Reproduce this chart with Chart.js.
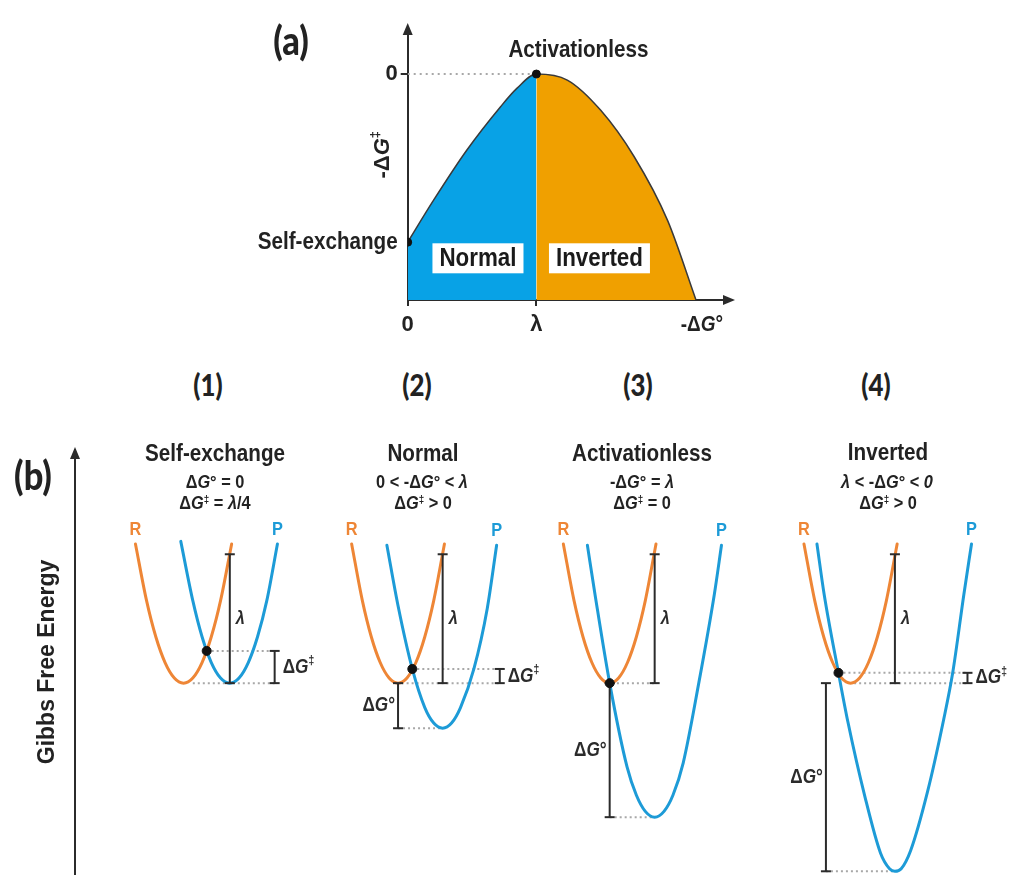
<!DOCTYPE html>
<html>
<head>
<meta charset="utf-8">
<script src="https://cdn.jsdelivr.net/npm/chart.js@4.4.1/dist/chart.umd.min.js"></script>
<style>
  body { margin: 0; background: #fff; width: 1016px; height: 881px; position: relative; overflow: hidden;
         font-family: 'Liberation Sans', Arial, sans-serif; color: #222; }
  canvas { position: absolute; }
  .t { position: absolute; font-weight: bold; white-space: nowrap; line-height: 1;
       transform: translate(-50%, -50%) scaleX(0.86); }
  .big { font-family: Lato, sans-serif; font-size: 40px; font-weight: 900; }
  .num { font-family: Lato, sans-serif; font-size: 30px; font-weight: 900; }
  .ttl { font-size: 24px; }
  .sub { font-size: 19px; }
  sup { font-size: 0.6em; vertical-align: 0.5em; line-height: 0; }
</style>
</head>
<body>
<canvas id="chartA" width="520" height="345" style="left:240px;top:0"></canvas>
<canvas id="chart1" width="340" height="441" style="left:0;top:440px"></canvas>
<canvas id="chart2" width="230" height="441" style="left:330px;top:440px"></canvas>
<canvas id="chart3" width="225" height="441" style="left:545px;top:440px"></canvas>
<canvas id="chart4" width="246" height="441" style="left:770px;top:440px"></canvas>

<div class="t big" style="left:291px;top:40px">(a)</div>
<div class="t big" style="left:33px;top:475px">(b)</div>
<div class="t num" style="left:208px;top:384px">(1)</div>
<div class="t num" style="left:417px;top:384px">(2)</div>
<div class="t num" style="left:638px;top:384px">(3)</div>
<div class="t num" style="left:876px;top:384px">(4)</div>

<div class="t ttl" style="left:215px;top:453px">Self-exchange</div>
<div class="t sub" style="left:215px;top:481px">Δ<i>G</i>° = 0</div>
<div class="t sub" style="left:215px;top:502px">Δ<i>G</i><sup>‡</sup> = <i>λ</i>/4</div>

<div class="t ttl" style="left:423px;top:453px">Normal</div>
<div class="t sub" style="left:422px;top:481px">0 &lt; -Δ<i>G</i>° &lt; <i>λ</i></div>
<div class="t sub" style="left:423px;top:502px">Δ<i>G</i><sup>‡</sup> &gt; 0</div>

<div class="t ttl" style="left:642px;top:453px">Activationless</div>
<div class="t sub" style="left:642px;top:481px">-Δ<i>G</i>° = <i>λ</i></div>
<div class="t sub" style="left:642px;top:502px">Δ<i>G</i><sup>‡</sup> = 0</div>

<div class="t ttl" style="left:888px;top:452px">Inverted</div>
<div class="t sub" style="left:887px;top:481px"><i>λ</i> &lt; -Δ<i>G</i>° &lt; <i>0</i></div>
<div class="t sub" style="left:888px;top:502px">Δ<i>G</i><sup>‡</sup> &gt; 0</div>

<script>
// (a) -ΔG‡ against -ΔG°, both in units of λ
const normalX = [0, 0.2, 0.46, 0.72, 0.85, 1];
const normalY = [-0.25, -0.188, -0.113, -0.049, -0.021, 0];
const invertedX = [1.24, 1.5, 1.76, 2.02, 2.24];
const invertedY = [-0.009, -0.054, -0.123, -0.218, -0.336];
const markX = [0, 1];          // self-exchange, activationless
const markY = [-0.25, 0];
const aTickX = [0, 1];
const aTickLabels = ['0', 'λ'];
const aTickY = [0];
const aTickYLabels = ['0'];

// (b) free energy curves, x = reaction coordinate (R-P spacing = 1), y in units of λ
const reactX = [-1.04, -0.8, -0.6, -0.4, -0.2, 0, 0.2, 0.4, 0.6, 0.8, 1.04];
const reactY = [1.08, 0.64, 0.36, 0.16, 0.04, 0, 0.04, 0.16, 0.36, 0.64, 1.08];
const prodX1 = [-0.06, 0.2, 0.4, 0.6, 0.8, 1, 1.2, 1.4, 1.6, 1.8, 2.03];
const prodY1 = [1.1, 0.64, 0.36, 0.16, 0.04, 0, 0.04, 0.16, 0.36, 0.64, 1.08];
const prodX2 = [-0.25, 0, 0.32, 0.6, 0.8, 1, 1.2, 1.4, 1.7, 2.0, 2.21];
const prodY2 = [1.07, 0.6, 0.11, -0.19, -0.31, -0.35, -0.31, -0.19, 0.11, 0.58, 1.07];
const prodX3 = [-0.5, -0.33, 0, 0.39, 0.6, 0.8, 1.01, 1.22, 1.42, 1.65, 2.0, 2.35, 2.51];
const prodY3 = [1.07, 0.69, 0, -0.65, -0.87, -0.995, -1.04, -0.995, -0.87, -0.62, 0, 0.69, 1.07];
const prodX4 = [-0.75, -0.59, -0.27, -0.06, 0.32, 0.67, 0.87, 0.99, 1.13, 1.34, 1.72, 2.08, 2.28, 2.53, 2.7];
const prodY4 = [1.08, 0.69, 0.08, -0.30, -0.88, -1.32, -1.44, -1.46, -1.44, -1.30, -0.84, -0.28, 0.08, 0.69, 1.08];

const productMinX = [1, 1, 1.01, 0.99];
const productMinY = [0, -0.35, -1.04, -1.46];    // ΔG°
const crossX = [0.5, 0.32, 0, -0.27];
const crossY = [0.25, 0.11, 0, 0.08];            // ΔG‡
const lambdaValue = 1;
const activationBarX = [1.97, 2.28, null, 2.61];
const standardBarX = [null, 0, 0, -0.55];
const baselineStartX = [0.2, 0.08, 0.05, 0.08];

const productX = [prodX1, prodX2, prodX3, prodX4];
const productY = [prodY1, prodY2, prodY3, prodY4];

const BLUE_FILL = '#08A2E6', ORANGE_FILL = '#F0A000';
const R_COLOR = '#EE8636', P_COLOR = '#1D9BD7';
const INK = '#2b2b2b', DOTS = '#a8a8a8';
const FONT = "'Liberation Sans', Arial, sans-serif";
const SX = 0.86;

const DG_ACT = [['Δ'], ['G', 'i'], ['‡', 's']];
const DG_STD = [['Δ'], ['G', 'i'], ['°']];

function xy(xs, ys) { return xs.map((x, i) => ({ x, y: ys[i] })); }

function drawRich(ctx, parts, x, y, size, align, color, sx = SX) {
  const fontFor = p => `${p[1] === 'i' ? 'italic ' : ''}bold ${p[1] === 's' ? Math.round(size * 0.6) : size}px ${FONT}`;
  let w = 0;
  const ws = parts.map(p => { ctx.font = fontFor(p); const m = ctx.measureText(p[0]).width; w += m; return m; });
  let cx = align === 'center' ? -w / 2 : align === 'right' ? -w : 0;
  ctx.save();
  ctx.translate(x, y);
  ctx.scale(sx, 1);
  ctx.fillStyle = color;
  ctx.textBaseline = 'middle';
  ctx.textAlign = 'left';
  parts.forEach((p, i) => {
    ctx.font = fontFor(p);
    ctx.fillText(p[0], cx, p[1] === 's' ? -size * 0.32 : 0);
    cx += ws[i];
  });
  ctx.restore();
  return w * sx;
}

function arrowHead(ctx, x, y, ang) {
  ctx.save();
  ctx.translate(x, y);
  ctx.rotate(ang);
  ctx.fillStyle = INK;
  ctx.beginPath();
  ctx.moveTo(0, 0); ctx.lineTo(-12, -5); ctx.lineTo(-12, 5);
  ctx.closePath();
  ctx.fill();
  ctx.restore();
}

// ---------- panel (a) ----------
const panelAPlugin = {
  id: 'panelA',
  afterDraw(chart) {
    const { ctx, chartArea: a, scales: { x, y } } = chart;
    ctx.save();
    ctx.strokeStyle = INK; ctx.lineWidth = 2;
    ctx.beginPath(); ctx.moveTo(a.right - 1, a.bottom); ctx.lineTo(a.right + 4, a.bottom); ctx.stroke();
    ctx.restore();
    arrowHead(ctx, a.right + 12, a.bottom, 0);
    arrowHead(ctx, a.left, a.top - 10, -Math.PI / 2);

    ctx.save();
    ctx.translate(a.left - 25, y.getPixelForValue(-0.12));
    ctx.rotate(-Math.PI / 2);
    drawRich(ctx, [['-'], ['Δ'], ['G', 'i'], ['‡', 's']], 0, 0, 22, 'center', '#222', 1);
    ctx.restore();
    drawRich(ctx, [['-'], ['Δ'], ['G', 'i'], ['°']], a.right, a.bottom + 25, 22, 'right', '#222');

    const peakX = x.getPixelForValue(markX[1]), peakY = y.getPixelForValue(markY[1]);
    drawRich(ctx, [['Activationless']], peakX + 42, peakY - 24, 24, 'center', '#222');
    const selfX = x.getPixelForValue(markX[0]), selfY = y.getPixelForValue(markY[0]);
    drawRich(ctx, [['Self-exchange']], selfX - 10, selfY, 24, 'right', '#222');

    [['Normal', 0.546], ['Inverted', 1.49]].forEach(([txt, v]) => {
      const cx = x.getPixelForValue(v), cy = y.getPixelForValue(-0.274);
      ctx.font = `bold 26px ${FONT}`;
      const w = ctx.measureText(txt).width * SX + 14;
      ctx.fillStyle = '#fff';
      ctx.fillRect(cx - w / 2, cy - 15, w, 30);
      drawRich(ctx, [[txt]], cx, cy + 1, 26, 'center', '#1a1a1a');
    });
  }
};

new Chart(document.getElementById('chartA'), {
  type: 'line',
  data: {
    datasets: [
      { data: xy(markX, markY), showLine: false, pointRadius: 4, pointBackgroundColor: '#111', pointBorderColor: '#111' },
      { data: [{ x: 0, y: 0 }, { x: 1, y: 0 }], borderColor: DOTS, borderWidth: 2, borderDash: [2, 4], pointRadius: 0 },
      {
        data: xy(normalX.concat(invertedX), normalY.concat(invertedY)),
        borderColor: '#3a3a3a', borderWidth: 1.5, pointRadius: 0,
        cubicInterpolationMode: 'monotone',
        fill: 'start', backgroundColor: BLUE_FILL,
        segment: { backgroundColor: c => c.p0.parsed.x < 1 ? BLUE_FILL : ORANGE_FILL }
      }
    ]
  },
  options: {
    responsive: false, animation: false, events: [],
    layout: { padding: { top: 33, right: 37, left: 0, bottom: 0 } },
    plugins: { legend: { display: false }, tooltip: { enabled: false } },
    scales: {
      x: {
        type: 'linear', min: 0, max: 2.45,
        afterFit: s => { s.height = 45; },
        afterBuildTicks: s => { s.ticks = aTickX.map(v => ({ value: v })); },
        border: { color: INK, width: 2 },
        grid: { drawOnChartArea: false, tickLength: 6, color: INK, lineWidth: 2 },
        ticks: { autoSkip: false, maxRotation: 0, padding: 6, color: '#222',
                 font: { family: FONT, size: 22, weight: 'bold' },
                 callback: (v, i) => aTickLabels[i] }
      },
      y: {
        min: -0.336, max: 0.061,
        afterFit: s => { s.width = 167.7; },
        afterBuildTicks: s => { s.ticks = aTickY.map(v => ({ value: v })); },
        border: { color: INK, width: 2 },
        grid: { drawOnChartArea: false, tickLength: 7, color: INK, lineWidth: 2 },
        ticks: { padding: 3, color: '#222', font: { family: FONT, size: 22, weight: 'bold' },
                 callback: (v, i) => aTickYLabels[i] }
      }
    }
  },
  plugins: [panelAPlugin]
});

// ---------- panel (b) ----------
const PX_PER_X = 47.5;
const Y_MIN = -1.481, Y_MAX = 1.809;
const frames = [
  { id: 'chart1', left: 0, width: 340, plotLeft: 75, zeroPx: 186.5 },
  { id: 'chart2', left: 330, width: 230, plotLeft: 330, zeroPx: 395 },
  { id: 'chart3', left: 545, width: 225, plotLeft: 545, zeroPx: 606.5 },
  { id: 'chart4', left: 770, width: 246, plotLeft: 770, zeroPx: 848 }
];

function curve(data, color) {
  return { data, borderColor: color, borderWidth: 3, pointRadius: 0, cubicInterpolationMode: 'monotone',
           borderCapStyle: 'round', fill: false };
}
function bar(x, y0, y1) {
  return { data: [{ x, y: y0 }, { x, y: y1 }], borderColor: INK, borderWidth: 2, tension: 0,
           pointStyle: 'line', pointRadius: 5, pointBorderWidth: 2, pointBorderColor: INK };
}
function dotted(x0, x1, y) {
  return { data: [{ x: x0, y }, { x: x1, y }], borderColor: DOTS, borderWidth: 2, borderDash: [2, 3],
           pointRadius: 0, tension: 0 };
}

function diagramPlugin(i) {
  return {
    id: 'diagram' + i,
    afterDatasetsDraw(chart) {
      const { ctx, chartArea: a, scales: { x, y } } = chart;
      const px = v => x.getPixelForValue(v), py = v => y.getPixelForValue(v);
      const pxs = productX[i], pys = productY[i];
      drawRich(ctx, [['R']], px(reactX[0]), py(reactY[0]) - 14, 19, 'center', R_COLOR);
      drawRich(ctx, [['P']], px(pxs[pxs.length - 1]), py(pys[pys.length - 1]) - 14, 19, 'center', P_COLOR);
      drawRich(ctx, [['λ', 'i']], px(productMinX[i]) + 6, py(lambdaValue / 2), 19, 'left', INK);
      if (activationBarX[i] !== null) {
        drawRich(ctx, DG_ACT, px(activationBarX[i]) + 8, py(crossY[i] / 2), 20, 'left', INK);
      }
      if (standardBarX[i] !== null) {
        drawRich(ctx, DG_STD, px(standardBarX[i]) - 3, py(productMinY[i] / 2), 20, 'right', INK);
      }
      if (i === 0) arrowHead(ctx, a.left, a.top - 3, -Math.PI / 2);
    }
  };
}

frames.forEach((f, i) => {
  const ds = [];
  ds.push({ data: [{ x: crossX[i], y: crossY[i] }], showLine: false, pointRadius: 4.5,
            pointBackgroundColor: '#111', pointBorderColor: '#111' });
  ds.push(bar(productMinX[i], 0, lambdaValue));
  if (activationBarX[i] !== null) ds.push(bar(activationBarX[i], 0, crossY[i]));
  if (standardBarX[i] !== null) ds.push(bar(standardBarX[i], 0, productMinY[i]));
  ds.push(curve(xy(reactX, reactY), R_COLOR));
  ds.push(curve(xy(productX[i], productY[i]), P_COLOR));
  const endX = activationBarX[i] !== null ? activationBarX[i] : productMinX[i];
  ds.push(dotted(baselineStartX[i], endX, 0));
  if (activationBarX[i] !== null) ds.push(dotted(crossX[i], activationBarX[i], crossY[i]));
  if (standardBarX[i] !== null) ds.push(dotted(standardBarX[i], productMinX[i], productMinY[i]));
  ds.forEach(d => { d.clip = false; });

  const yAxis = i === 0 ? {
    display: true, position: 'left', min: Y_MIN, max: Y_MAX,
    afterFit: s => { s.width = 75; },
    border: { display: true, color: INK, width: 2 },
    grid: { drawOnChartArea: false, drawTicks: false },
    ticks: { display: false },
    title: { display: true, text: 'Gibbs Free Energy', color: '#222',
             font: { family: FONT, size: 23, weight: 'bold' }, padding: { top: 34, bottom: 0 } }
  } : { display: false, min: Y_MIN, max: Y_MAX };

  new Chart(document.getElementById(f.id), {
    type: 'line',
    data: { datasets: ds },
    options: {
      responsive: false, animation: false, events: [],
      layout: { padding: { top: 10, left: 0, right: 0, bottom: 0 } },
      plugins: { legend: { display: false }, tooltip: { enabled: false } },
      scales: {
        x: { type: 'linear', display: false,
             min: (f.plotLeft - f.zeroPx) / PX_PER_X, max: (f.left + f.width - f.zeroPx) / PX_PER_X },
        y: yAxis
      }
    },
    plugins: [diagramPlugin(i)]
  });
});
</script>
</body>
</html>
